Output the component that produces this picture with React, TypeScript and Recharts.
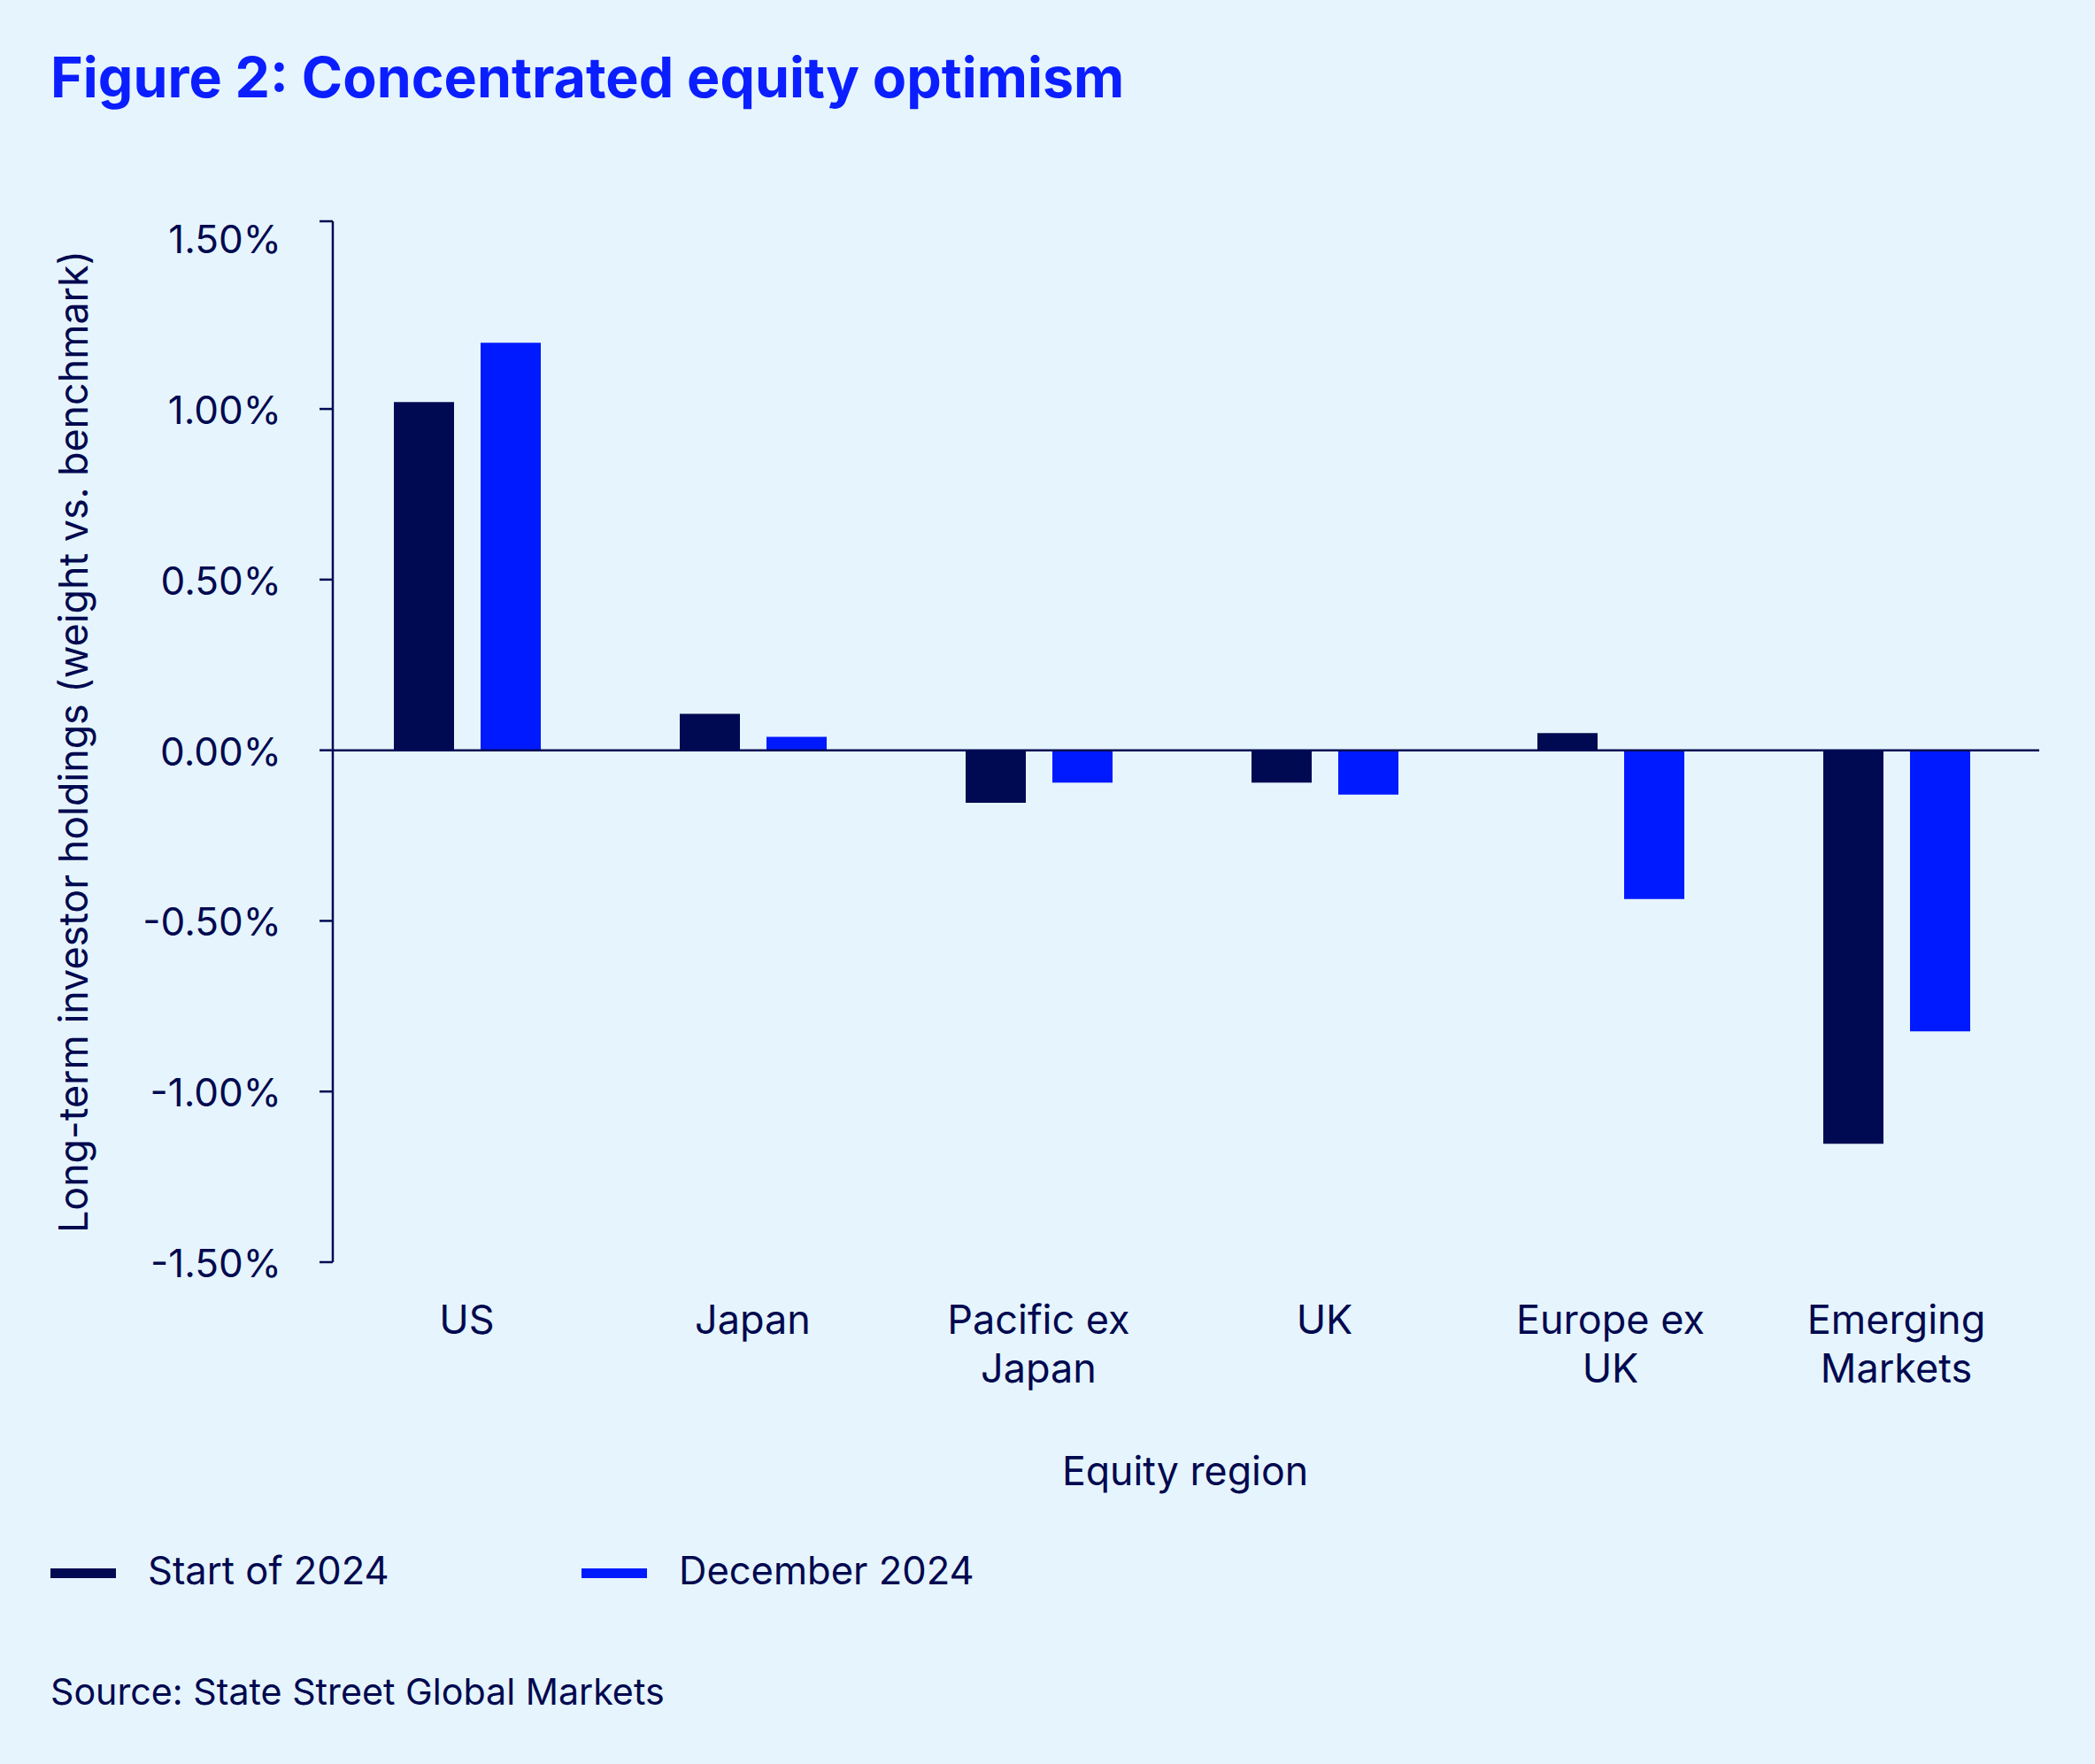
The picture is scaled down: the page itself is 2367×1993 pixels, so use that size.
import React from "react";
import { BarChart, Bar, XAxis, YAxis, ReferenceLine } from "recharts";

const categories = ["US", "Japan", "Pacific ex Japan", "UK", "Europe ex UK", "Emerging Markets"];
const categoryLines = [["US"], ["Japan"], ["Pacific ex", "Japan"], ["UK"], ["Europe ex", "UK"], ["Emerging", "Markets"]];
const start2024 = [1.02, 0.107, -0.154, -0.095, 0.05, -1.153];
const dec2024 = [1.194, 0.039, -0.095, -0.13, -0.436, -0.824];
const yTicks = [-1.5, -1, -0.5, 0, 0.5, 1, 1.5];
const axisTop = 1.55;
const seriesKeys = ["start", "dec"];
const seriesNames = ["Start of 2024", "December 2024"];

const NAVY = "#000A52";
const BLUE = "#001AFF";
const TEXT = "#00094F";
const BG = "#E6F4FD";
const FONT = "Inter, 'Noto Sans', sans-serif";

const data = categories.map((c, i) => ({ category: c, start: start2024[i], dec: dec2024[i] }));
const seriesColors = [NAVY, BLUE];

const YTick = (props: any) => {
  const { x, y, payload } = props;
  const v = payload.value;
  return (
    <g>
      {v !== 1.5 && <line x1={x - 15} x2={x} y1={y} y2={y} stroke={NAVY} strokeWidth={2.5} />}
      {v !== axisTop && (
        <text x={x - 58} y={y + 17} textAnchor="end" fontSize={44} fill={TEXT} fontFamily={FONT}>
          {v.toFixed(2) + "%"}
        </text>
      )}
    </g>
  );
};

const XTick = (props: any) => {
  const { x, y, payload } = props;
  const lines = categoryLines[payload.index] || [payload.value];
  return (
    <g>
      {lines.map((l: string, i: number) => (
        <text key={i} x={x} y={y + 81 + i * 55} textAnchor="middle" fontSize={45} fill={TEXT} fontFamily={FONT}>
          {l}
        </text>
      ))}
    </g>
  );
};

export default function App() {
  const legendX = [57, 657];
  return (
    <div style={{ position: "relative", width: 2367, height: 1993, background: BG, overflow: "hidden" }}>
      <style>{"body{margin:0}"}</style>
      <BarChart
        width={2367}
        height={1993}
        data={data}
        margin={{ top: 250, right: 63, left: 0, bottom: 0 }}
        barGap={30}
      >
        <XAxis
          dataKey="category"
          tickLine={false}
          axisLine={false}
          tickSize={0}
          tickMargin={0}
          height={567}
          interval={0}
          padding={{ left: -10, right: 0 }}
          tick={<XTick />}
        />
        <YAxis
          type="number"
          domain={[-1.5, axisTop]}
          ticks={[...yTicks, axisTop]}
          interval={0}
          tickSize={0}
          tickMargin={0}
          tickLine={false}
          axisLine={{ stroke: NAVY, strokeWidth: 2.5 }}
          width={376}
          tick={<YTick />}
        />
        {seriesKeys.map((k, i) => (
          <Bar key={k} dataKey={k} name={seriesNames[i]} fill={seriesColors[i]} barSize={68} isAnimationActive={false} />
        ))}
        <ReferenceLine y={0} stroke={NAVY} strokeWidth={2.5} />
      </BarChart>
      <svg width={2367} height={1993} style={{ position: "absolute", left: 0, top: 0, pointerEvents: "none" }}>
        <text x={57} y={110} fontSize={62.7} fontWeight={700} fill="#0A1EFF" fontFamily={FONT}>
          Figure 2: Concentrated equity optimism
        </text>
        <text
          x={83}
          y={838}
          transform="rotate(-90 83 838)"
          textAnchor="middle"
          dominantBaseline="central"
          fontSize={44.8}
          fill={TEXT}
          fontFamily={FONT}
        >
          Long-term investor holdings (weight vs. benchmark)
        </text>
        <text x={1339} y={1678} textAnchor="middle" fontSize={44.7} fill={TEXT} fontFamily={FONT}>
          Equity region
        </text>
        {seriesNames.map((n, i) => (
          <g key={n}>
            <rect x={legendX[i]} y={1772} width={74} height={11} fill={seriesColors[i]} />
            <text x={legendX[i] + 110} y={1790} fontSize={43.5} fill={TEXT} fontFamily={FONT}>
              {n}
            </text>
          </g>
        ))}
        <text x={57} y={1926} fontSize={41.2} fill={TEXT} fontFamily={FONT}>
          Source: State Street Global Markets
        </text>
      </svg>
    </div>
  );
}
